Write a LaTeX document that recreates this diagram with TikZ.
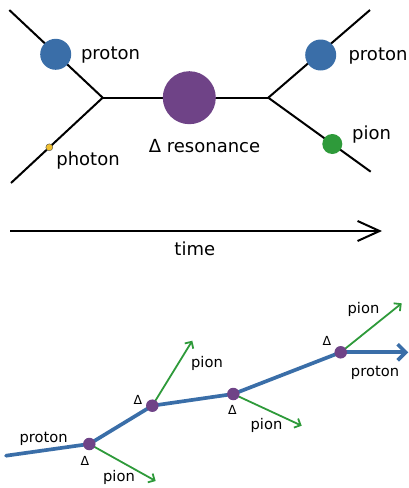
\documentclass[tikz,border=0pt]{standalone}
\usepackage{fontspec}
\setmainfont{DejaVu Sans}
\usetikzlibrary{arrows.meta, positioning}

\definecolor{protonblue}{HTML}{3A6EA8}
\definecolor{deltapurple}{HTML}{6F4387}
\definecolor{piongreen}{HTML}{2E9A3A}
\definecolor{photonyellow}{HTML}{F0C030}

\begin{document}
\begin{tikzpicture}[
    x=1pt, y=-1pt,
    track/.style={draw, black, line width=2pt},
    ball/.style={circle, inner sep=0pt, draw=none},
    proton/.style={ball, fill=protonblue, minimum size=31pt},
    delta/.style={ball, fill=deltapurple, minimum size=53pt},
    pion/.style={ball, fill=piongreen, minimum size=20pt},
    photon/.style={ball, fill=photonyellow, draw=black!70, line width=0.4pt, minimum size=7pt},
    vertex/.style={ball, fill=deltapurple, minimum size=12.5pt},
    biglbl/.style={inner sep=0pt, anchor=base, font=\fontsize{18}{20}\selectfont},
    lbl/.style={inner sep=0pt, anchor=base, font=\fontsize{14.7}{17}\selectfont},
    dlbl/.style={inner sep=0pt, anchor=base, font=\fontsize{12.5}{14}\selectfont},
    protontrack/.style={draw, protonblue, line width=3.7pt},
    piontrack/.style={draw, piongreen, line width=1.8pt, -{Straight Barb[length=5pt, width=10pt]}}
]
    \useasboundingbox (0,0) rectangle (409,488);

    % Feynman-like picture
    \coordinate (inP) at (9.3,10);
    \coordinate (inG) at (11,183);
    \coordinate (vin) at (102.7,97.7);
    \coordinate (vout) at (268.3,97.7);
    \coordinate (outP) at (370,10);
    \coordinate (outPi) at (370.7,171.7);

    \draw[track] (inP) -- (vin) -- (inG);
    \draw[track] (vin) -- (vout);
    \draw[track] (outP) -- (vout) -- (outPi);

    \node[proton] (p1) at (55.7,54.3) {};
    \node[photon] (g1) at (49.3,147.3) {};
    \node[delta] (d1) at (189.3,97.7) {};
    \node[proton] (p2) at (320.7,55) {};
    \node[pion] (pi1) at (332.3,144) {};

    \node[biglbl] at (110.5,59.5) {proton};
    \node[biglbl] at (88,165) {photon};
    \node[biglbl] at (204.5,152) {Δ resonance};
    \node[biglbl] at (378,60) {proton};
    \node[biglbl] at (371.5,139.5) {pion};

    % time axis
    \coordinate (t0) at (10,231);
    \coordinate (t1) at (382,231);
    \draw[track, -{Straight Barb[length=22pt, width=20pt]}] (t0) -- (t1);
    \node[biglbl] at (194.8,255.7) {time};

    % cascade of Delta decays
    \coordinate (pin) at (6,455.7);
    \coordinate (pout) at (408.3,352.3);
    \coordinate (a1) at (89.3,444);
    \coordinate (a2) at (152.3,405.7);
    \coordinate (a3) at (233.3,394);
    \coordinate (a4) at (340.7,352.3);
    \coordinate (e1) at (155.7,481);
    \coordinate (e2) at (192.3,340.7);
    \coordinate (e3) at (301.7,425.7);
    \coordinate (e4) at (401.7,303.3);

    \draw[protontrack, line cap=round] (pin) -- (a1) -- (a2) -- (a3) -- (a4);
    \draw[protontrack, -{Straight Barb[length=8pt, width=16pt]}] (a4) -- (pout);
    \foreach \i in {1,...,4}
        \draw[piontrack] (a\i) -- (e\i);
    \foreach \i in {1,...,4}
        \node[vertex] (dv\i) at (a\i) {};

    \node[lbl] at (43.7,442.7) {proton};
    \node[lbl] at (375,376.7) {proton};
    \node[lbl] at (119,481.5) {pion};
    \node[lbl] at (207,367.3) {pion};
    \node[lbl] at (266.5,429) {pion};
    \node[lbl] at (363.5,313.3) {pion};
    \node[dlbl] at (85,465) {Δ};
    \node[dlbl] at (138,404.3) {Δ};
    \node[dlbl] at (232.5,414.3) {Δ};
    \node[dlbl] at (327,345.7) {Δ};
\end{tikzpicture}
\end{document}
